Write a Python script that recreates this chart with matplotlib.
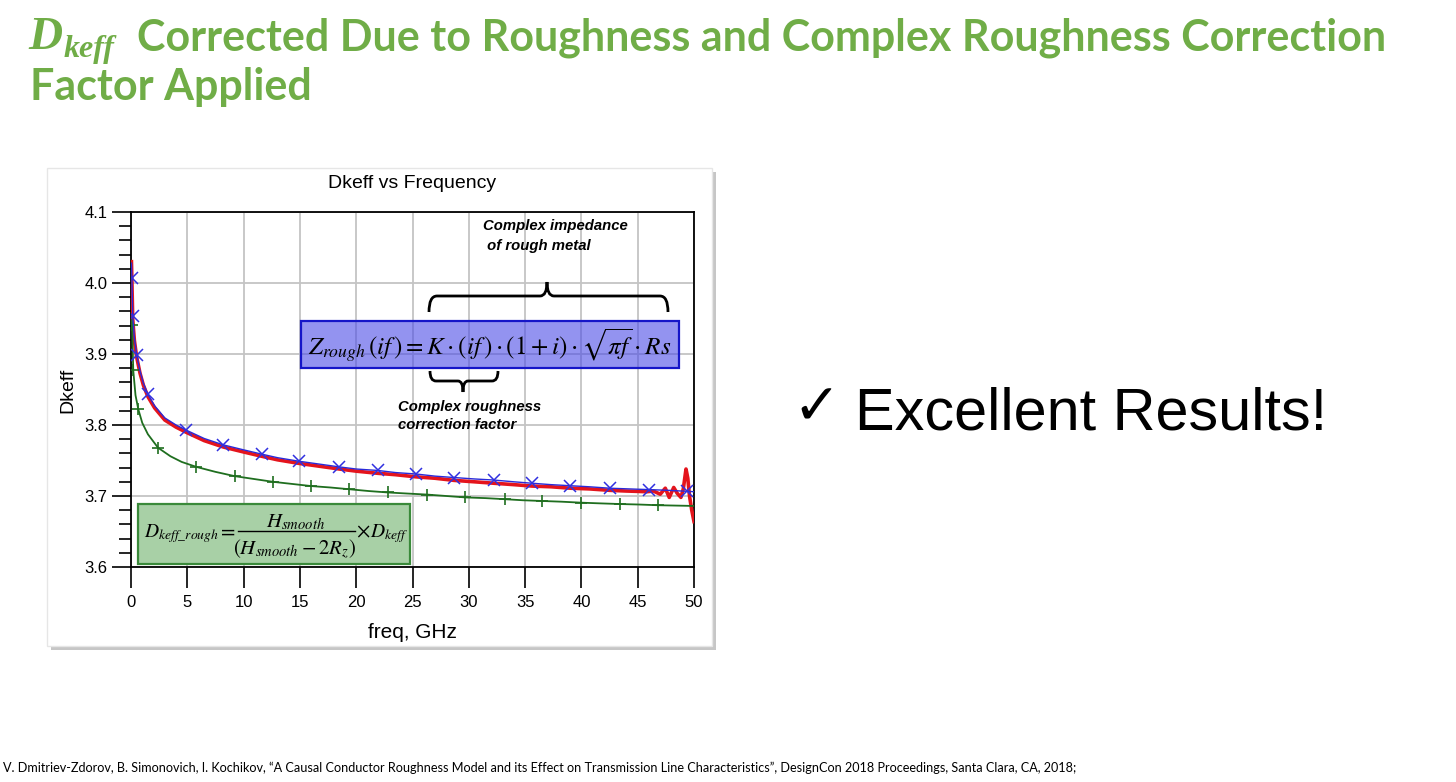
import numpy as np
import matplotlib
matplotlib.use('Agg')
import matplotlib.pyplot as plt
import matplotlib.transforms as mtransforms
from matplotlib.patches import Rectangle, PathPatch
from matplotlib.path import Path
from matplotlib.lines import Line2D
from matplotlib.ticker import MultipleLocator

# Red curve (measured Dkeff)
red_f = [0.04, 0.08, 0.15, 0.3, 0.5, 0.8, 1.1, 1.5, 2.1, 3.0, 4.0, 4.87, 6.5, 8.2,
         10.0, 11.6, 13.0, 14.9, 16.7, 18.5, 20.0, 21.9, 23.5, 25.3, 27.0, 28.7,
         30.5, 32.2, 34.0, 35.6, 37.3, 39.0, 40.7, 42.5, 44.0, 45.0, 45.8, 46.4,
         47.0, 47.45, 47.8, 48.2, 48.5, 48.84, 49.05, 49.29, 49.45, 49.6, 49.8, 50.0]
red_d = [4.030, 4.004, 3.950, 3.919, 3.896, 3.873, 3.856, 3.840, 3.824, 3.807,
         3.797, 3.790, 3.778, 3.769, 3.762, 3.756, 3.751, 3.746, 3.742, 3.738,
         3.735, 3.732, 3.730, 3.727, 3.725, 3.722, 3.720, 3.718, 3.716, 3.714,
         3.713, 3.711, 3.710, 3.708, 3.707, 3.7065, 3.706, 3.707, 3.7025, 3.711,
         3.698, 3.712, 3.704, 3.698, 3.710, 3.738, 3.725, 3.700, 3.680, 3.664]

# Blue curve (model with complex roughness correction)
blue_f = [0.04, 0.08, 0.15, 0.3, 0.5, 0.8, 1.1, 1.5, 2.1, 3.0, 4.0, 4.87, 6.5, 8.2,
          10.0, 11.6, 13.0, 14.9, 16.7, 18.5, 20.0, 21.9, 23.5, 25.3, 27.0, 28.7,
          30.5, 32.2, 34.0, 35.6, 37.3, 39.0, 40.7, 42.5, 44.2, 46.0, 47.7, 49.4, 50.0]
blue_d = [4.028, 4.007, 3.953, 3.923, 3.899, 3.876, 3.859, 3.843, 3.827, 3.810,
          3.800, 3.793, 3.781, 3.772, 3.765, 3.759, 3.754, 3.749, 3.745, 3.741,
          3.738, 3.736, 3.733, 3.731, 3.728, 3.726, 3.724, 3.7225, 3.720, 3.718,
          3.716, 3.7145, 3.713, 3.711, 3.710, 3.709, 3.708, 3.7066, 3.706]
blue_mark_f = [0.08, 0.15, 0.5, 1.5, 4.87, 8.2, 11.6, 14.9, 18.5, 21.9, 25.3, 28.7,
               32.2, 35.6, 39.0, 42.5, 46.0, 49.4]
blue_mark_d = [4.007, 3.953, 3.899, 3.843, 3.793, 3.772, 3.759, 3.749, 3.741, 3.736,
               3.731, 3.726, 3.7225, 3.718, 3.7145, 3.711, 3.709, 3.7066]

# Green curve (smooth model, no correction)
green_f = [0.05, 0.1, 0.2, 0.4, 0.65, 1.0, 1.5, 2.4, 3.5, 4.5, 5.8, 7.5, 9.2, 10.9,
           12.6, 14.3, 16.0, 17.7, 19.4, 21.1, 22.8, 24.5, 26.3, 28.0, 29.7, 31.5,
           33.2, 34.8, 36.5, 38.2, 40.0, 41.7, 43.4, 45.1, 46.8, 48.4, 50.0]
green_d = [3.945, 3.941, 3.877, 3.842, 3.822, 3.803, 3.787, 3.768, 3.756, 3.748,
           3.741, 3.734, 3.728, 3.724, 3.720, 3.717, 3.714, 3.712, 3.7095, 3.707,
           3.705, 3.7035, 3.702, 3.700, 3.698, 3.697, 3.6955, 3.694, 3.693, 3.692,
           3.6906, 3.6896, 3.6887, 3.688, 3.687, 3.6865, 3.686]
green_mark_f = [0.1, 0.2, 0.65, 2.4, 5.8, 9.2, 12.6, 16.0, 19.4, 22.8, 26.3, 29.7,
                33.2, 36.5, 40.0, 43.4, 46.8]
green_mark_d = [3.941, 3.877, 3.822, 3.768, 3.741, 3.728, 3.720, 3.714, 3.7095, 3.705,
                3.702, 3.698, 3.6955, 3.693, 3.6906, 3.6887, 3.687]

x_ticks = [0, 5, 10, 15, 20, 25, 30, 35, 40, 45, 50]
y_ticks = [3.6, 3.7, 3.8, 3.9, 4.0, 4.1]

GREEN = '#70ad47'
W, H = 1456, 782

fig = plt.figure(figsize=(W / 100, H / 100), dpi=100)
fig.patch.set_facecolor('white')
# pixel coordinates with origin at top-left
px = mtransforms.Affine2D().scale(1 / W, -1 / H).translate(0, 1) + fig.transFigure
renderer = fig.canvas.get_renderer()


def fit(t, width):
    bb = t.get_window_extent(renderer)
    t.set_fontsize(t.get_fontsize() * width / bb.width)


# chart frame with drop shadow
fig.add_artist(Rectangle((51, 172), 665, 478, transform=px, facecolor='#c6c6c6',
                         edgecolor='none', zorder=-3))
fig.add_artist(Rectangle((47, 168), 665, 478, transform=px, facecolor='white',
                         edgecolor='#e6e6e6', lw=1, zorder=-2))

ax = fig.add_axes([131 / W, 1 - 567 / H, (694 - 131) / W, (567 - 212) / H])
ax.set_zorder(1)
ax.set_xlim(0, 50)
ax.set_ylim(3.6, 4.1)
ax.set_xticks(x_ticks)
ax.set_yticks(y_ticks)
ax.set_yticklabels(['%.1f' % v for v in y_ticks])
ax.yaxis.set_minor_locator(MultipleLocator(0.02))
ax.grid(True, which='major', color='#c4c4c4', lw=1.3)
ax.set_axisbelow(True)
for s in ax.spines.values():
    s.set_color('black')
    s.set_linewidth(1.3)
ax.tick_params(axis='y', which='major', direction='out', length=14, width=1.2,
               pad=3, labelsize=12)
ax.tick_params(axis='y', which='minor', direction='out', length=9, width=1.2)
ax.tick_params(axis='x', which='major', direction='out', length=15, width=1.2,
               pad=5, labelsize=12)
for lab in ax.get_xticklabels() + ax.get_yticklabels():
    lab.set_family('Liberation Sans')

ax.plot(red_f, red_d, color='#e4141c', lw=2.6, zorder=3)
ax.plot(blue_f, blue_d, color='#2a2ad8', lw=1.0, zorder=4)
ax.plot(blue_mark_f, blue_mark_d, ls='none', marker='x', ms=8, mew=1.1,
        color='#3030e0', zorder=5)
ax.plot(green_f, green_d, color='#1f6e1f', lw=1.3, zorder=3)
ax.plot(green_mark_f, green_mark_d, ls='none', marker='+', ms=9, mew=1.2,
        color='#1f6e1f', zorder=3)

fig.text(412, 183, 'Dkeff vs Frequency', transform=px, ha='center', va='center',
         family='Liberation Sans', fontsize=14)
fig.text(412, 633, 'freq, GHz', transform=px, ha='center', va='center',
         family='Liberation Sans', fontsize=15)
fig.text(68, 390, 'Dkeff', transform=px, ha='center', va='center', rotation=90,
         family='Liberation Sans', fontsize=14)

# blue formula box
fig.add_artist(Rectangle((301, 321), 378, 47, transform=px, facecolor='#4b4be6',
                         alpha=0.6, edgecolor='none', zorder=2))
fig.add_artist(Rectangle((301, 321), 378, 47, transform=px, facecolor='none',
                         edgecolor='#1515c8', lw=1.6, zorder=2))
t = fig.text(490, 346, r'$Z_{rough}\,(if\,) = K\cdot(if\,)\cdot(1+i)\cdot\sqrt{\pi f}\cdot Rs$',
             transform=px, ha='center', va='center', fontsize=18, math_fontfamily='stix',
             zorder=3)
fit(t, 364)

# green formula box, built from pieces so the fraction is full size
fig.add_artist(Rectangle((138, 504), 272, 60, transform=px, facecolor='#a8d0a6',
                         edgecolor='#3a8a3a', lw=1.6, zorder=2))
mk = dict(transform=px, math_fontfamily='stix', zorder=3, va='baseline')
fig.text(144, 537, r'$D_{keff\_rough}$', ha='left', fontsize=14, **mk)
fig.text(226, 537, r'$=$', ha='center', fontsize=15, **mk)
fig.text(296, 527, r'$H_{smooth}$', ha='center', fontsize=15, **mk)
fig.add_artist(Line2D([238, 355], [531, 531], transform=px, color='black', lw=1,
                      zorder=3))
fig.text(295, 555, r'$\left(H_{smooth}-2R_z\right)$', ha='center', fontsize=15, **mk)
fig.text(363, 537, r'$\times$', ha='center', fontsize=15, **mk)
fig.text(370, 537, r'$D_{keff}$', ha='left', fontsize=14, **mk)

# braces
Q, L, M = Path.CURVE3, Path.LINETO, Path.MOVETO
top = Path([(429, 312), (429, 296), (437, 296), (540, 296), (547, 296), (547, 282),
            (547, 296), (554, 296), (660, 296), (668, 296), (668, 312)],
           [M, Q, Q, L, Q, Q, Q, Q, L, Q, Q])
low = Path([(430, 371), (430, 381), (436, 381), (458, 381), (463, 381), (463, 392),
            (463, 381), (468, 381), (492, 381), (498, 381), (498, 371)],
           [M, Q, Q, L, Q, Q, Q, Q, L, Q, Q])
for p in (top, low):
    fig.add_artist(PathPatch(p, transform=px, facecolor='none', edgecolor='black',
                             lw=2, zorder=3))

for x, y, s in [(483, 226, 'Complex impedance'), (483, 246, ' of rough metal'),
                (398, 407, 'Complex roughness'), (398, 425, 'correction factor')]:
    fig.text(x, y, s, transform=px, ha='left', va='center', family='Liberation Sans',
             weight='bold', style='italic', fontsize=10.7, zorder=3)

# slide title
fig.text(28, 49, 'D', transform=px, ha='left', va='baseline', family='Liberation Serif',
         style='italic', weight='bold', fontsize=34, color=GREEN)
fig.text(64, 57, 'keff', transform=px, ha='left', va='baseline',
         family='Liberation Serif', style='italic', weight='bold', fontsize=23,
         color=GREEN)
t1 = fig.text(137, 50, 'Corrected Due to Roughness and Complex Roughness Correction',
              transform=px, ha='left', va='baseline', family='Lato', weight='bold',
              fontsize=30, color=GREEN)
fit(t1, 1246)
fig.text(30, 100, 'Factor Applied', transform=px, ha='left', va='baseline',
         family='Lato', weight='bold', fontsize=t1.get_fontsize(), color=GREEN)

# right side message
t = fig.text(792, 424, '\u2713', transform=px, ha='left', va='baseline',
             family='DejaVu Sans', weight='bold', fontsize=30)
fit(t, 48)
t = fig.text(855, 430, 'Excellent Results!', transform=px, ha='left', va='baseline',
             family='Liberation Sans', fontsize=40)
fit(t, 472)

# reference
t = fig.text(3, 772, 'V. Dmitriev-Zdorov, B. Simonovich, I. Kochikov, \u201cA Causal Conductor '
             'Roughness Model and its Effect on Transmission Line Characteristics\u201d, '
             'DesignCon 2018 Proceedings, Santa Clara, CA, 2018;',
             transform=px, ha='left', va='baseline', family='Lato', fontsize=8)
fit(t, 1080)

fig.savefig('out.png', dpi=100)
